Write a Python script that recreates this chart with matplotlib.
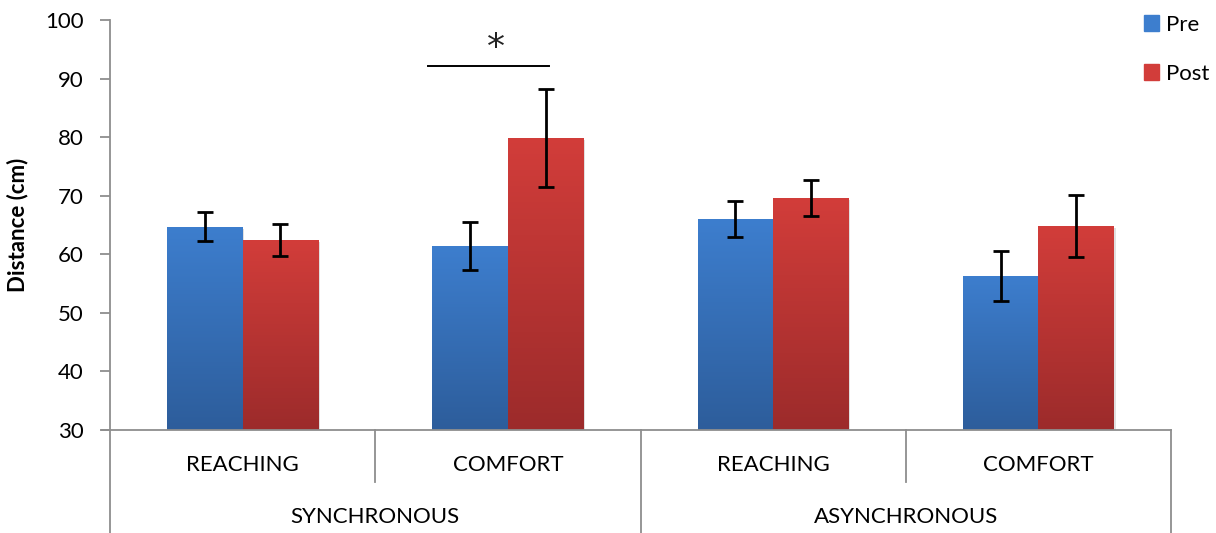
import numpy as np
import matplotlib.pyplot as plt
import matplotlib.colors as mcolors
from matplotlib.patches import Rectangle

plt.rcParams['font.family'] = ['Lato', 'DejaVu Sans']

groups = ['SYNCHRONOUS', 'ASYNCHRONOUS']
conditions = ['REACHING', 'COMFORT', 'REACHING', 'COMFORT']
pre = [64.7, 61.4, 66.0, 56.3]
pre_err = [2.45, 4.1, 3.05, 4.2]
post = [62.4, 79.85, 69.6, 64.8]
post_err = [2.7, 8.3, 3.0, 5.3]

blue_top, blue_bot = '#3D7ECE', '#2D5D9B'
red_top, red_bot = '#D23D3A', '#9C2B2B'

fig = plt.figure(figsize=(12.16, 5.33), dpi=100)
ax = fig.add_axes([0.0905, 0.1932, 0.963 - 0.0905, 0.9625 - 0.1932])

x = np.arange(len(conditions))
w = 0.285
ymin = 30


def gradient_bars(xs, vals, top, bot, label):
    bars = ax.bar(xs, np.array(vals) - ymin, w, bottom=ymin, color=top,
                  label=label, zorder=2, linewidth=0)
    cmap = mcolors.LinearSegmentedColormap.from_list('g', [bot, top])
    grad = np.linspace(0, 1, 256).reshape(-1, 1)
    for b in bars:
        x0, y0 = b.get_x(), b.get_y()
        bw, bh = b.get_width(), b.get_height()
        # soft drop shadow
        ax.add_patch(Rectangle((x0 + 0.006, y0), bw, bh - 0.3, color='#000000',
                               alpha=0.12, zorder=1.5, linewidth=0))
        im = ax.imshow(grad, extent=(x0, x0 + bw, y0, y0 + bh), origin='lower',
                       cmap=cmap, aspect='auto', zorder=2.1)
        im.set_clip_path(b)
    return bars


gradient_bars(x - w / 2, pre, blue_top, blue_bot, 'Pre')
gradient_bars(x + w / 2, post, red_top, red_bot, 'Post')

ax.errorbar(x - w / 2, pre, yerr=pre_err, fmt='none', ecolor='black',
            elinewidth=2, capsize=6, capthick=2, zorder=3)
ax.errorbar(x + w / 2, post, yerr=post_err, fmt='none', ecolor='black',
            elinewidth=2, capsize=6, capthick=2, zorder=3)

# significance marker over the synchronous comfort pair
ax.plot([0.70, 1.155], [92.2, 92.2], color='black', lw=1.4, zorder=3)
ax.text(0.955, 95.3, '*', ha='center', va='center', fontsize=26,
        family='DejaVu Sans', color='#222222')

ax.set_xlim(-0.5, 3.5)
ax.set_ylim(30, 100)
ax.set_yticks(np.arange(30, 101, 10))
ax.set_xticks([])
ax.set_ylabel('Distance (cm)', fontsize=16, fontweight='bold', labelpad=12)

axis_grey = '#8E8E8E'
for s in ['top', 'right']:
    ax.spines[s].set_visible(False)
ax.spines['left'].set_color(axis_grey)
ax.spines['left'].set_linewidth(1.3)
ax.spines['bottom'].set_color(axis_grey)
ax.spines['bottom'].set_linewidth(1.3)
ax.tick_params(axis='y', direction='out', length=7, width=1.3, color=axis_grey,
               labelsize=16, pad=12)

# category separators below the axis
trans = ax.get_xaxis_transform()
for xs in [-0.5, 1.5, 3.5]:
    ax.plot([xs, xs], [0, -0.34], transform=trans, color=axis_grey, lw=1.3,
            clip_on=False)
for xs in [0.5, 2.5]:
    ax.plot([xs, xs], [0, -0.126], transform=trans, color=axis_grey, lw=1.3,
            clip_on=False)
ax.plot([-0.53, -0.5], [0, 0], transform=trans, color=axis_grey, lw=1.3,
        clip_on=False)

for xi, name in zip(x, conditions):
    ax.text(xi, -0.085, name, transform=trans, ha='center', va='center',
            fontsize=16)
for gi, name in enumerate(groups):
    ax.text(gi * 2 + 0.5, -0.212, name, transform=trans, ha='center',
            va='center', fontsize=16)

handles = [Rectangle((0, 0), 1, 1, color=blue_top),
           Rectangle((0, 0), 1, 1, color=red_top)]
fig.legend(handles, ['Pre', 'Post'], loc='upper left',
           bbox_to_anchor=(0.924, 1.01), frameon=False, fontsize=16,
           handlelength=0.7, handleheight=0.7, handletextpad=0.3,
           labelspacing=1.3)

fig.savefig('out.png', dpi=100)
